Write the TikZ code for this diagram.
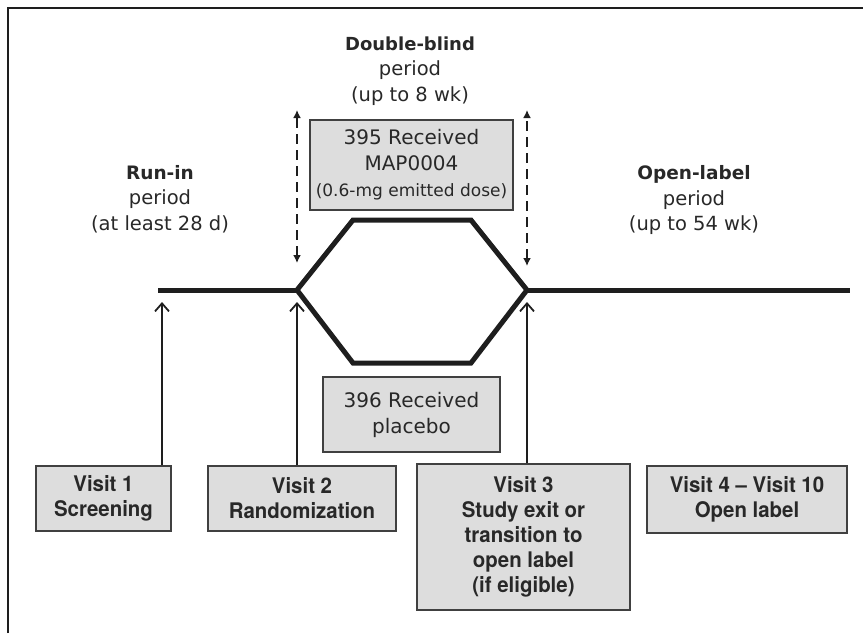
\documentclass[tikz,border=0pt]{standalone}
\usepackage{fontspec}
\setmainfont{DejaVu Sans}
\newfontfamily\hvfont[FakeStretch=0.95]{TeX Gyre Heros}
\usetikzlibrary{arrows.meta}
\definecolor{boxfill}{RGB}{221,221,221}
\definecolor{ink}{RGB}{30,30,30}
\definecolor{txt}{RGB}{40,40,40}
\begin{document}
\begin{tikzpicture}[x=1pt,y=-1pt,
  box/.style={draw=ink!85, line width=1.7pt, fill=boxfill, inner sep=0pt, align=center, text=txt},
  visitbox/.style={box, font=\hvfont\bfseries\fontsize{21.5}{25}\selectfont},
  plainbox/.style={box, font=\fontsize{20}{26}\selectfont},
  heading/.style={align=center, text=txt, font=\fontsize{19.5}{25.5}\selectfont, inner sep=0pt},
  timeline/.style={line width=5pt, draw=ink},
  uparrow/.style={line width=1.8pt, draw=ink, -{Straight Barb[length=8pt,width=14pt,line width=1.8pt]}},
  dasharrow/.style={line width=2.7pt, draw=ink, dash pattern=on 10pt off 6pt, {Latex[length=8pt,width=8pt]}-{Latex[length=8pt,width=8pt]}},
  frameline/.style={line width=2.5pt, draw=ink}
]
\useasboundingbox (0,0) rectangle (863,633);
% frame
\coordinate (fbl) at (8,633);
\coordinate (ftl) at (8,8);
\coordinate (ftr) at (863,8);
\draw[frameline] (fbl) -- (ftl) -- (ftr);

% timeline and hexagon
\coordinate (start) at (158,290);
\coordinate (L) at (297,290);
\coordinate (TL) at (353,220);
\coordinate (TR) at (471,220);
\coordinate (R) at (527,290);
\coordinate (BR) at (471,363);
\coordinate (BL) at (353,363);
\coordinate (finish) at (850,290);
\draw[timeline] (start) -- (L);
\draw[timeline] (L) -- (TL) -- (TR) -- (R) -- (BR) -- (BL) -- cycle;
\draw[timeline] (R) -- (finish);

% headings
\node[heading] (db) at (410,71) {{\bfseries\fontsize{18}{25.5}\selectfont Double-blind}\\period\\(up to 8 wk)};
\node[heading] (ri) at (160,199) {{\bfseries\fontsize{18.5}{25.5}\selectfont Run-in}\\period\\(at least 28 d)};
\node[heading] (ol) at (694,200) {{\bfseries\fontsize{18.5}{25.5}\selectfont Open-label}\\period\\(up to 54 wk)};

% treatment boxes
\node[plainbox, minimum width=203pt, minimum height=90pt] (map) at (411.5,165)
  {395 Received\\MAP0004\\{\fontsize{17}{22}\selectfont (0.6-mg emitted dose)}};
\node[plainbox, minimum width=177pt, minimum height=75pt] (pla) at (411.5,414.5)
  {396 Received\\placebo};

% dashed arrows
\coordinate (d1t) at (297,110);
\coordinate (d1b) at (297,263);
\coordinate (d2t) at (527,110);
\coordinate (d2b) at (527,266);
\draw[dasharrow] (d1b) -- (d1t);
\draw[dasharrow] (d2b) -- (d2t);

% visit boxes
\node[visitbox, minimum width=135pt, minimum height=65pt] (v1) at (103.5,498.5) {Visit 1\\Screening};
\node[visitbox, minimum width=188pt, minimum height=65pt] (v2) at (302,498.5) {Visit 2\\Randomization};
\node[visitbox, minimum width=213pt, minimum height=146pt] (v3) at (523.5,537) {Visit 3\\Study exit or\\transition to\\open label\\(if eligible)};
\node[visitbox, minimum width=200pt, minimum height=67pt] (v4) at (747,499.5) {Visit 4 \textendash{} Visit 10\\Open label};

% up arrows
\coordinate (a1) at (162,302);
\coordinate (a2) at (297,302);
\coordinate (a3) at (527,302);
\draw[uparrow] (v1.north -| a1) -- (a1);
\draw[uparrow] (v2.north -| a2) -- (a2);
\draw[uparrow] (v3.north -| a3) -- (a3);
\end{tikzpicture}
\end{document}
